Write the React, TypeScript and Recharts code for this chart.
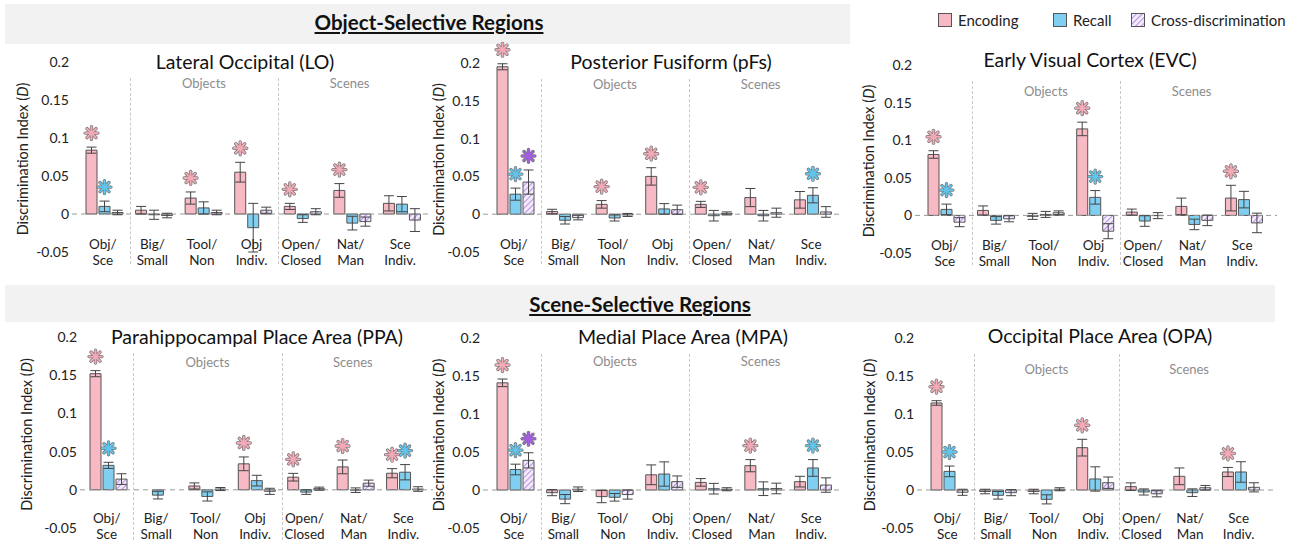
import React from 'react';
import { Bar, BarChart, ErrorBar, LabelList, ReferenceLine, XAxis, YAxis } from 'recharts';

const FONT = 'Lato, "Open Sans", sans-serif';

const categories = [
  ['Obj/', 'Sce'],
  ['Big/', 'Small'],
  ['Tool/', 'Non'],
  ['Obj', 'Indiv.'],
  ['Open/', 'Closed'],
  ['Nat/', 'Man'],
  ['Sce', 'Indiv.'],
];
const yTicks = [-0.05, 0, 0.05, 0.1, 0.15, 0.2];
const yDomain: [number, number] = [-0.05, 0.2];

// Lateral Occipital (LO)
const loEnc = [0.084, 0.005, 0.021, 0.055, 0.01, 0.031, 0.014];
const loEncErr = [0.004, 0.005, 0.008, 0.013, 0.004, 0.009, 0.01];
const loRec = [0.01, -0.001, 0.008, -0.018, -0.006, -0.012, 0.013];
const loRecErr = [0.007, 0.006, 0.008, 0.032, 0.005, 0.009, 0.01];
const loCross = [0.002, -0.002, 0.002, 0.005, 0.003, -0.01, -0.008];
const loCrossErr = [0.003, 0.003, 0.003, 0.004, 0.004, 0.006, 0.015];
const loEncSig = [1, 0, 1, 1, 1, 1, 0];
const loRecSig = [1, 0, 0, 0, 0, 0, 0];
const loCrossSig = [0, 0, 0, 0, 0, 0, 0];

// Posterior Fusiform (pFs)
const pfsEnc = [0.195, 0.0035, 0.013, 0.05, 0.013, 0.022, 0.019];
const pfsEncErr = [0.004, 0.003, 0.005, 0.0115, 0.004, 0.012, 0.011];
const pfsRec = [0.0265, -0.008, -0.005, 0.007, -0.002, -0.002, 0.025];
const pfsRecErr = [0.008, 0.005, 0.004, 0.007, 0.007, 0.007, 0.01];
const pfsCross = [0.0425, -0.0045, -0.001, 0.006, 0.001, 0.002, 0.003];
const pfsCrossErr = [0.016, 0.003, 0.002, 0.006, 0.002, 0.006, 0.007];
const pfsEncSig = [1, 0, 1, 1, 1, 0, 0];
const pfsRecSig = [1, 0, 0, 0, 0, 0, 1];
const pfsCrossSig = [1, 0, 0, 0, 0, 0, 0];

// Early Visual Cortex (EVC)
const evcEnc = [0.081, 0.0066, -0.0013, 0.115, 0.0044, 0.012, 0.023];
const evcEncErr = [0.005, 0.006, 0.004, 0.009, 0.004, 0.011, 0.017];
const evcRec = [0.008, -0.0066, 0.0013, 0.024, -0.0075, -0.012, 0.021];
const evcRecErr = [0.007, 0.005, 0.004, 0.009, 0.007, 0.007, 0.011];
const evcCross = [-0.009, -0.0045, 0.0035, -0.021, -0.0003, -0.0066, -0.01];
const evcCrossErr = [0.006, 0.004, 0.0025, 0.01, 0.004, 0.007, 0.013];
const evcEncSig = [1, 0, 0, 1, 0, 0, 1];
const evcRecSig = [1, 0, 0, 1, 0, 0, 0];
const evcCrossSig = [0, 0, 0, 0, 0, 0, 0];

// Parahippocampal Place Area (PPA)
const ppaEnc = [0.152, 0.0, 0.005, 0.034, 0.0165, 0.03, 0.0217];
const ppaEncErr = [0.004, 0.004, 0.004, 0.009, 0.005, 0.009, 0.006];
const ppaRec = [0.032, -0.007, -0.0087, 0.012, -0.003, -0.0005, 0.023];
const ppaRecErr = [0.004, 0.005, 0.006, 0.007, 0.003, 0.003, 0.01];
const ppaCross = [0.014, 0.0, 0.001, -0.002, 0.0015, 0.0087, 0.001];
const ppaCrossErr = [0.007, 0.003, 0.002, 0.004, 0.002, 0.004, 0.003];
const ppaEncSig = [1, 0, 0, 1, 1, 1, 1];
const ppaRecSig = [1, 0, 0, 0, 0, 0, 1];
const ppaCrossSig = [0, 0, 0, 0, 0, 0, 0];

// Medial Place Area (MPA)
const mpaEnc = [0.141, -0.0035, -0.0087, 0.02, 0.01, 0.032, 0.011];
const mpaEncErr = [0.005, 0.004, 0.008, 0.013, 0.005, 0.008, 0.007];
const mpaRec = [0.027, -0.012, -0.0096, 0.021, 0.0017, 0.0017, 0.029];
const mpaRecErr = [0.007, 0.006, 0.005, 0.016, 0.007, 0.009, 0.011];
const mpaCross = [0.039, 0.001, -0.006, 0.011, 0.001, 0.002, 0.0065];
const mpaCrossErr = [0.01, 0.003, 0.006, 0.0075, 0.002, 0.007, 0.0095];
const mpaEncSig = [1, 0, 0, 0, 0, 1, 0];
const mpaRecSig = [1, 0, 0, 0, 0, 0, 1];
const mpaCrossSig = [1, 0, 0, 0, 0, 0, 0];

// Occipital Place Area (OPA)
const opaEnc = [0.1145, -0.002, -0.002, 0.0557, 0.0044, 0.018, 0.0237];
const opaEncErr = [0.003, 0.003, 0.003, 0.011, 0.005, 0.011, 0.006];
const opaRec = [0.0245, -0.007, -0.0123, 0.0145, -0.0026, -0.0035, 0.0237];
const opaRecErr = [0.007, 0.005, 0.006, 0.016, 0.004, 0.005, 0.0135];
const opaCross = [-0.003, -0.0035, 0.001, 0.0096, -0.005, 0.003, 0.0035];
const opaCrossErr = [0.004, 0.004, 0.002, 0.0075, 0.004, 0.003, 0.006];
const opaEncSig = [1, 0, 0, 1, 0, 0, 1];
const opaRecSig = [1, 0, 0, 0, 0, 0, 0];
const opaCrossSig = [0, 0, 0, 0, 0, 0, 0];

const ENC_FILL = '#f7b9c3';
const REC_FILL = '#80cff0';
const OUTLINE = '#555';
const STAR_ENC = '#f4aab7';
const STAR_REC = '#5fc6ee';
const STAR_CROSS = '#a25fe0';

type PanelCfg = {
  title: string;
  titleX: number;
  titleY: number;
  left: number;
  zeroLeft: number;
  zeroRight: number;
  padL: number;
  padR: number;
  plotTop: number;
  plotBottom: number;
  groupY: number;
  tickDy: [number, number];
  series: number[][];
};

const panels: PanelCfg[] = [
  { title: 'Lateral Occipital (LO)', titleX: 245, titleY: 62, left: 9, zeroLeft: 72, zeroRight: 430, padL: 8, padR: 3, plotTop: 62, plotBottom: 252, groupY: 83, tickDy: [-3, 13],
    series: [loEnc, loEncErr, loRec, loRecErr, loCross, loCrossErr, loEncSig, loRecSig, loCrossSig] },
  { title: 'Posterior Fusiform (pFs)', titleX: 671, titleY: 62, left: 425, zeroLeft: 483, zeroRight: 843, padL: 8, padR: 5, plotTop: 63, plotBottom: 252, groupY: 84, tickDy: [-3, 13],
    series: [pfsEnc, pfsEncErr, pfsRec, pfsRecErr, pfsCross, pfsCrossErr, pfsEncSig, pfsRecSig, pfsCrossSig] },
  { title: 'Early Visual Cortex (EVC)', titleX: 1090, titleY: 60, left: 855, zeroLeft: 915, zeroRight: 1277, padL: 7, padR: 8, plotTop: 65, plotBottom: 253, groupY: 91, tickDy: [-3, 13],
    series: [evcEnc, evcEncErr, evcRec, evcRecErr, evcCross, evcCrossErr, evcEncSig, evcRecSig, evcCrossSig] },
  { title: 'Parahippocampal Place Area (PPA)', titleX: 257, titleY: 337, left: 13, zeroLeft: 80, zeroRight: 433, padL: 4, padR: 3, plotTop: 337, plotBottom: 528, groupY: 362, tickDy: [-5, 11],
    series: [ppaEnc, ppaEncErr, ppaRec, ppaRecErr, ppaCross, ppaCrossErr, ppaEncSig, ppaRecSig, ppaCrossSig] },
  { title: 'Medial Place Area (MPA)', titleX: 683, titleY: 337, left: 425, zeroLeft: 483, zeroRight: 843, padL: 8, padR: 5, plotTop: 338, plotBottom: 528, groupY: 361, tickDy: [-5, 11],
    series: [mpaEnc, mpaEncErr, mpaRec, mpaRecErr, mpaCross, mpaCrossErr, mpaEncSig, mpaRecSig, mpaCrossSig] },
  { title: 'Occipital Place Area (OPA)', titleX: 1100, titleY: 336, left: 856, zeroLeft: 917, zeroRight: 1277, padL: 8, padR: 12, plotTop: 338, plotBottom: 528, groupY: 369, tickDy: [-5, 11],
    series: [opaEnc, opaEncErr, opaRec, opaRecErr, opaCross, opaCrossErr, opaEncSig, opaRecSig, opaCrossSig] },
];

const TOP_PAD = 28;

const Asterisk = ({ cx, cy, color }: { cx: number; cy: number; color: string }) => {
  const r = 6.4;
  const arms = [0, 45, 90, 135].map((a) => {
    const rad = (a * Math.PI) / 180;
    return { x1: cx - r * Math.cos(rad), y1: cy - r * Math.sin(rad), x2: cx + r * Math.cos(rad), y2: cy + r * Math.sin(rad) };
  });
  return (
    <g>
      {arms.map((l, i) => <line key={'o' + i} {...l} stroke="#7a7a7a" strokeWidth={3.4} strokeLinecap="round" />)}
      {arms.map((l, i) => <line key={'f' + i} {...l} stroke={color} strokeWidth={1.9} strokeLinecap="round" />)}
      <circle cx={cx} cy={cy} r={1.6} fill={color} />
    </g>
  );
};

const makeStar = (color: string, pxPerUnit: number) => (props: any) => {
  const { value } = props;
  if (value == null || value === '') return null;
  const vb = props.viewBox ?? props;
  const x = Number(vb.x ?? props.x);
  const w = Number(vb.width ?? props.width);
  const y = Number(vb.y ?? props.y);
  const h = Number(vb.height ?? props.height);
  const top = Math.min(y, y + h);
  return <Asterisk cx={x + w / 2} cy={top - Number(value) * pxPerUnit - 14} color={color} />;
};

const makeXTick = (dy: [number, number]) => (props: any) => {
  const { x, y, payload } = props;
  const [a, b] = String(payload.value).split('|');
  return (
    <g>
      <text x={x - 2} y={y + dy[0]} textAnchor="middle" fontSize={13.5} fill="#222" fontFamily={FONT}>{a}</text>
      <text x={x - 2} y={y + dy[1]} textAnchor="middle" fontSize={13.5} fill="#222" fontFamily={FONT}>{b}</text>
    </g>
  );
};

const YLabel = (props: any) => {
  const vb = props.viewBox;
  if (!vb) return null;
  const cx = vb.x + 13;
  const cy = vb.y + vb.height / 2 + 2;
  return (
    <text x={cx} y={cy} transform={`rotate(-90 ${cx} ${cy})`} textAnchor="middle" dominantBaseline="central" fontSize={14.5} fill="#222" fontFamily={FONT}>
      Discrimination Index (<tspan fontStyle="italic">D</tspan>)
    </text>
  );
};

const Panel = ({ p }: { p: PanelCfg }) => {
  const [enc, encErr, rec, recErr, cross, crossErr, encSig, recSig, crossSig] = p.series;
  const top = p.plotTop - TOP_PAD;
  const height = p.plotBottom - top + 30;
  const width = p.zeroRight - p.left + 2;
  const data = categories.map((c, i) => ({
    cat: c.join('|'),
    enc: enc[i], encErr: encErr[i], encSig: encSig[i],
    rec: rec[i], recErr: recErr[i], recSig: recSig[i],
    cross: cross[i], crossErr: crossErr[i], crossSig: crossSig[i],
  }));
  const pxPerUnit = (p.plotBottom - p.plotTop) / (yDomain[1] - yDomain[0]);
  const bandLeft = p.zeroLeft + p.padL;
  const band = (p.zeroRight - p.padR - bandLeft) / categories.length;
  const seps = [bandLeft + band, bandLeft + 4 * band];
  const groups = [
    { text: 'Objects', x: bandLeft + 2.5 * band },
    { text: 'Scenes', x: bandLeft + 5.5 * band - 3 },
  ];
  const XTick = makeXTick(p.tickDy);
  return (
    <>
      {seps.map((sx, i) => (
        <div key={i} style={{ position: 'absolute', left: sx, top: p.plotTop + 16, height: p.plotBottom - p.plotTop - 4, borderLeft: '1px dashed #c8c8c8' }} />
      ))}
      {groups.map((g) => (
        <div key={g.text} style={{ position: 'absolute', left: g.x - 40, width: 80, top: p.groupY - 9, textAlign: 'center', fontSize: 13, color: '#8c8c8c', lineHeight: '18px' }}>{g.text}</div>
      ))}
      <div style={{ position: 'absolute', left: p.titleX - 200, width: 400, top: p.titleY - 13, textAlign: 'center', fontSize: 19.5, color: '#111', lineHeight: '26px', whiteSpace: 'nowrap' }}>{p.title}</div>
      <div style={{ position: 'absolute', left: p.left, top, width, height }}>
        <BarChart width={width} height={height} data={data} margin={{ top: TOP_PAD, right: 2, bottom: 0, left: 0 }} barSize={11} barGap={2}>
          <XAxis dataKey="cat" axisLine={false} tickLine={false} tickSize={0} tickMargin={0} height={30} interval={0} padding={{ left: p.padL, right: p.padR }} tick={<XTick />} />
          <YAxis
            domain={yDomain}
            ticks={yTicks}
            allowDataOverflow
            width={p.zeroLeft - p.left}
            axisLine={false}
            tickLine={false}
            tickSize={0}
            tickMargin={3}
            tick={{ fill: '#222', fontSize: 14, fontFamily: FONT }}
            label={<YLabel />}
          />
          <ReferenceLine y={0} stroke="#9a9a9a" strokeDasharray="5 4" />
          <Bar dataKey="enc" fill={ENC_FILL} stroke={OUTLINE} strokeWidth={1} isAnimationActive={false}>
            <ErrorBar dataKey="encErr" width={5} stroke="#444" strokeWidth={1} />
            <LabelList dataKey={(d: any) => (d.encSig ? d.encErr : null)} content={makeStar(STAR_ENC, pxPerUnit)} />
          </Bar>
          <Bar dataKey="rec" fill={REC_FILL} stroke={OUTLINE} strokeWidth={1} isAnimationActive={false}>
            <ErrorBar dataKey="recErr" width={5} stroke="#444" strokeWidth={1} />
            <LabelList dataKey={(d: any) => (d.recSig ? d.recErr : null)} content={makeStar(STAR_REC, pxPerUnit)} />
          </Bar>
          <Bar dataKey="cross" fill="url(#crossHatch)" stroke={OUTLINE} strokeWidth={1} isAnimationActive={false}>
            <ErrorBar dataKey="crossErr" width={5} stroke="#444" strokeWidth={1} />
            <LabelList dataKey={(d: any) => (d.crossSig ? d.crossErr : null)} content={makeStar(STAR_CROSS, pxPerUnit)} />
          </Bar>
        </BarChart>
      </div>
    </>
  );
};

const legendItems = [
  { label: 'Encoding', fill: ENC_FILL, x: 938 },
  { label: 'Recall', fill: REC_FILL, x: 1053 },
  { label: 'Cross-discrimination', fill: 'url(#crossHatch)', x: 1131 },
];

export default function App() {
  return (
    <div style={{ position: 'absolute', left: 0, top: 0, width: 1296, height: 542, background: '#fff', fontFamily: FONT, overflow: 'hidden' }}>
      <svg width={0} height={0} style={{ position: 'absolute' }}>
        <defs>
          <pattern id="crossHatch" patternUnits="userSpaceOnUse" width={4} height={4} patternTransform="rotate(45)">
            <rect width={4} height={4} fill="#f3eafc" />
            <line x1={0} y1={0} x2={0} y2={4} stroke="#a77be0" strokeWidth={1.6} />
          </pattern>
        </defs>
      </svg>
      <div style={{ position: 'absolute', left: 5, top: 4, width: 845, height: 40, background: '#f2f2f2' }} />
      <div style={{ position: 'absolute', left: 5, top: 285, width: 1270, height: 37, background: '#f2f2f2' }} />
      <div style={{ position: 'absolute', left: 229, width: 400, top: 9, textAlign: 'center', fontSize: 20.5, fontWeight: 700, textDecoration: 'underline', color: '#111', lineHeight: '26px' }}>
        Object-Selective Regions
      </div>
      <div style={{ position: 'absolute', left: 440, width: 400, top: 291, textAlign: 'center', fontSize: 20.5, fontWeight: 700, textDecoration: 'underline', color: '#111', lineHeight: '26px' }}>
        Scene-Selective Regions
      </div>
      {legendItems.map((it) => (
        <div key={it.label} style={{ position: 'absolute', left: it.x, top: 10, height: 20, display: 'flex', alignItems: 'center', whiteSpace: 'nowrap' }}>
          <svg width={15} height={15} style={{ marginRight: 5 }}>
            <rect x={0.5} y={0.5} width={13} height={13} fill={it.fill} stroke={OUTLINE} />
          </svg>
          <span style={{ fontSize: 15, color: '#222' }}>{it.label}</span>
        </div>
      ))}
      {panels.map((p) => (
        <Panel key={p.title} p={p} />
      ))}
    </div>
  );
}
